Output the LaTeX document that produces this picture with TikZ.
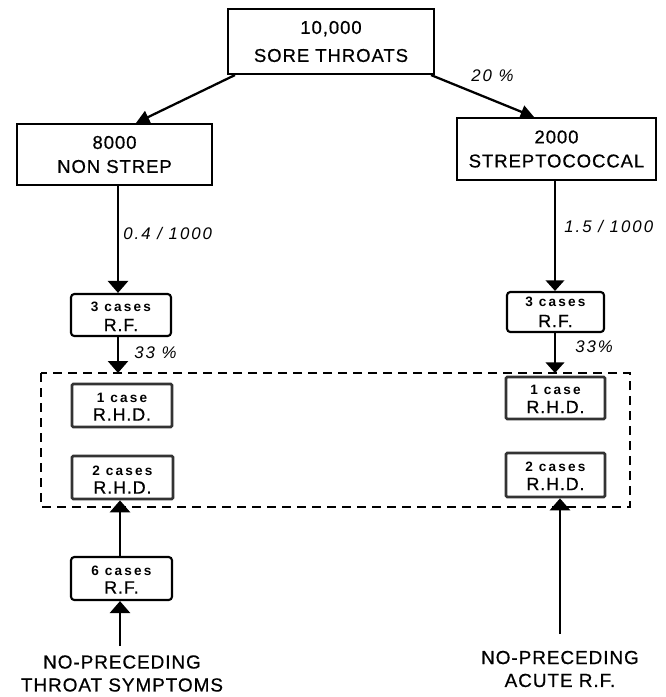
\documentclass[tikz,border=0pt]{standalone}
\usepackage{fontspec}
\setmainfont{Liberation Sans}
\newfontfamily\lettf[LetterSpace=5,FakeBold=0.6]{Liberation Sans}
\newfontfamily\labf[LetterSpace=12]{Liberation Sans}
\newfontfamily\smallf[LetterSpace=16]{Liberation Sans}
\usetikzlibrary{arrows.meta,calc}
\begin{document}
\begin{tikzpicture}[x=0.75pt,y=-0.75pt,
  bx/.style 2 args={minimum width=#1*0.75pt, minimum height=#2*0.75pt},
  bigbox/.style={draw, line width=1.6pt, inner sep=0pt, align=center,
    font=\lettf\fontsize{13.9}{18}\selectfont},
  smallbox/.style={draw, line width=1.6pt, rounded corners=2.5pt, inner sep=0pt},
  rhdbox/.style={draw=black!80, line width=2pt, rounded corners=1pt, inner sep=0pt},
  smalltop/.style={inner sep=0pt, font=\smallf\bfseries\fontsize{10.2}{11}\selectfont},
  smallbig/.style={inner sep=0pt, font=\lettf\fontsize{13.4}{14}\selectfont},
  lab/.style={inner sep=0pt, font=\labf\itshape\fontsize{12.6}{14}\selectfont},
  bottomtxt/.style={inner sep=0pt, align=center, font=\lettf\fontsize{14.2}{17.2}\selectfont},
  arrL/.style={line width=2.1pt, -{Triangle[width=15pt,length=9pt]}},
  arrR/.style={line width=1.5pt, -{Triangle[width=14pt,length=8pt]}},
  diag/.style={line width=1.7pt, -{Triangle[width=10pt,length=10pt]}},
  dashbox/.style={line width=1.5pt, dash pattern=on 6.75pt off 4.5pt}
]
\useasboundingbox (0,0) rectangle (665,697);

% main boxes
\node[bigbox, bx={206}{65}, font=\lettf\fontsize{13.9}{21}\selectfont] (top) at (331,41.5) {10,000\\SORE THROATS};
\node[bigbox, bx={195}{61}] (nonstrep) at (114.5,154.5) {8000\\NON STREP};
\node[bigbox, bx={199}{62}] (strep) at (556.5,149) {2000\\STREPTOCOCCAL};

% small boxes, left column
\node[smallbox, bx={100}{42}] (rfL) at (121,315) {};
\node[smalltop] (rfLa) at ($(rfL)+(0,-8)$) {3 cases};
\node[smallbig] (rfLb) at ($(rfL)+(0,10)$) {R.F.};

\node[rhdbox, bx={100}{43}] (rhd1L) at (122,405.5) {};
\node[smalltop] (rhd1La) at ($(rhd1L)+(0,-8)$) {1 case};
\node[smallbig] (rhd1Lb) at ($(rhd1L)+(0,9)$) {R.H.D.};

\node[rhdbox, bx={101}{43}] (rhd2L) at (122.5,477.5) {};
\node[smalltop] (rhd2La) at ($(rhd2L)+(0,-7)$) {2 cases};
\node[smallbig] (rhd2Lb) at ($(rhd2L)+(0,10)$) {R.H.D.};

\node[smallbox, bx={101}{43}] (rf6) at (121.5,578.5) {};
\node[smalltop] (rf6a) at ($(rf6)+(0,-8)$) {6 cases};
\node[smallbig] (rf6b) at ($(rf6)+(0,9)$) {R.F.};

% small boxes, right column
\node[smallbox, bx={97}{40}] (rfR) at (555.5,312) {};
\node[smalltop] (rfRa) at ($(rfR)+(0,-10)$) {3 cases};
\node[smallbig] (rfRb) at ($(rfR)+(0,9)$) {R.F.};

\node[rhdbox, bx={99}{42}] (rhd1R) at (555.5,398) {};
\node[smalltop] (rhd1Ra) at ($(rhd1R)+(0,-8)$) {1 case};
\node[smallbig] (rhd1Rb) at ($(rhd1R)+(0,9)$) {R.H.D.};

\node[rhdbox, bx={99}{44}] (rhd2R) at (555.5,475) {};
\node[smalltop] (rhd2Ra) at ($(rhd2R)+(0,-8)$) {2 cases};
\node[smallbig] (rhd2Rb) at ($(rhd2R)+(0,9)$) {R.H.D.};

% dashed enclosure
\draw[dashbox] (41,373) rectangle (630,507);
\coordinate (dtop) at (41,373);

% guide coordinates
\coordinate (lx) at (118,0);
\coordinate (lx2) at (120,0);
\coordinate (rx) at (555,0);
\coordinate (rx2) at (560,0);
\coordinate (botL) at (120,646);
\coordinate (botR) at (560,634);

% connectors
\draw[diag] ($(top.south west)+(8,0)$) -- ($(nonstrep.north)+(21.5,0)$);
\draw[diag] ($(top.south east)+(-4,0)$) -- ($(strep.north)+(-22.5,0)$);

\draw[arrL] (nonstrep.south -| lx) -- (rfL.north -| lx);
\draw[arrL] (rfL.south -| lx) -- (dtop -| lx);
\draw[arrL] (rf6.north -| lx2) -- (rhd2L.south -| lx2);
\draw[arrL] (botL) -- (rf6.south -| lx2);

\draw[arrR] (strep.south -| rx) -- (rfR.north -| rx);
\draw[arrR] (rfR.south -| rx) -- (dtop -| rx);
\draw[arrL] (botR) -- (rhd2R.south -| rx2);

% labels
\node[lab, anchor=west] (l20) at (471,76) {20 \%};
\node[lab, anchor=west] (l04) at (123,233) {0.4 / 1000};
\node[lab, anchor=west] (l15) at (564,226) {1.5 / 1000};
\node[lab, anchor=west] (l33a) at (134,353) {33 \%};
\node[lab, anchor=west] (l33b) at (575,347) {33\%};

% bottom texts
\node[bottomtxt] (ntL) at (122,673.5) {NO-PRECEDING\\THROAT SYMPTOMS};
\node[bottomtxt] (ntR) at (560,669) {NO-PRECEDING\\ACUTE R.F.};
\end{tikzpicture}
\end{document}
